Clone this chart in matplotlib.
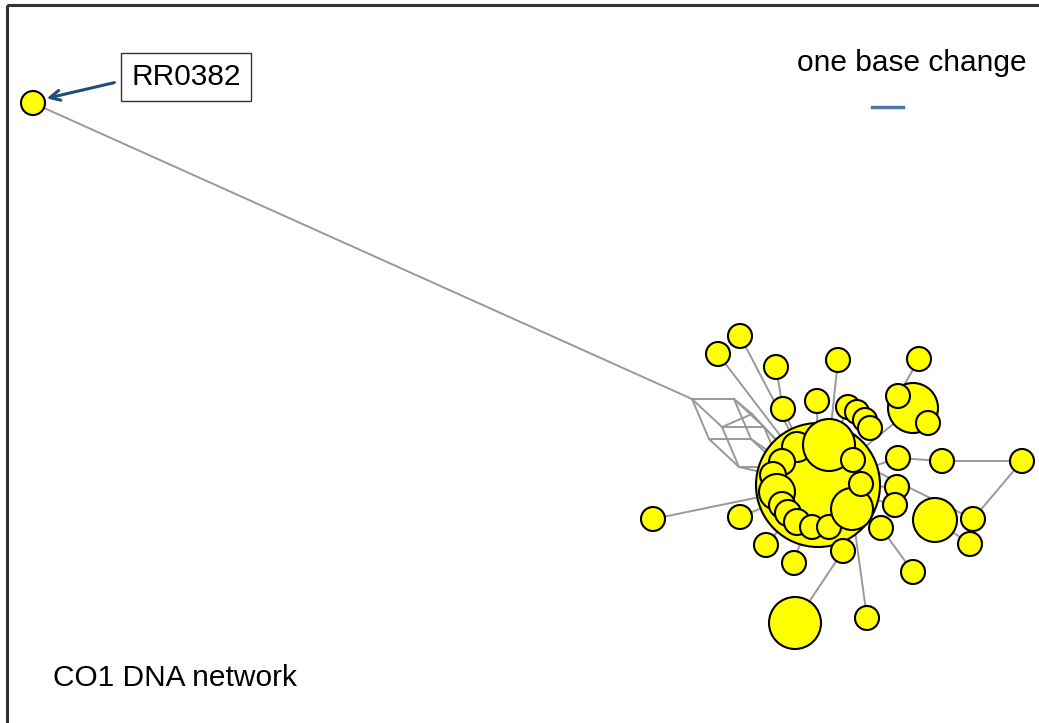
import matplotlib.pyplot as plt
from matplotlib.patches import Circle, Rectangle

# haplotype nodes: x, y (pixel-like layout coords), radius ~ frequency
hap_x = [33, 818,
         797, 782, 773, 777, 782, 788, 797, 812, 829, 829, 853, 852, 861,
         740, 718, 776, 838, 919, 783, 817, 898, 942, 1022, 897, 895,
         973, 970, 881, 913, 867, 843, 794, 766, 740, 653, 935, 795,
         848, 857, 865, 870, 913, 898, 928]
hap_y = [103, 485,
         447, 462, 475, 492, 505, 513, 522, 527, 527, 445, 460, 509, 484,
         336, 354, 367, 360, 359, 409, 401, 458, 461, 461, 487, 505,
         519, 544, 528, 572, 618, 551, 563, 545, 517, 519, 520, 623,
         407, 412, 420, 428, 408, 396, 423]
hap_r = [12, 62,
         15, 13, 13, 18, 13, 13, 13, 12, 12, 26, 12, 21, 12,
         12, 12, 12, 12, 12, 12, 12, 12, 12, 12, 12, 12,
         12, 12, 12, 12, 12, 12, 12, 12, 12, 12, 22, 26,
         12, 12, 12, 12, 25, 12, 12]

# median vectors (unsampled, drawn as line junctions only)
med_x = [692, 734, 709, 722, 751, 764, 739, 781, 752]
med_y = [399, 399, 439, 427, 439, 427, 467, 467, 414]

# links between haplotypes (index into hap lists)
links = [(15, 1), (16, 1), (17, 20), (20, 1), (18, 11), (19, 44), (43, 1),
         (22, 1), (22, 23), (23, 24), (24, 27), (12, 27), (37, 28),
         (29, 30), (31, 13), (38, 32), (32, 1), (36, 1), (35, 1), (34, 1),
         (33, 1), (25, 1), (26, 1), (21, 1), (39, 1)]
# links through the median network: ('h', i) haplotype, ('m', i) median
med_links = [(('h', 0), ('m', 0)),
             (('m', 0), ('m', 1)), (('m', 0), ('m', 2)), (('m', 0), ('m', 3)),
             (('m', 1), ('m', 4)), (('m', 1), ('m', 5)), (('m', 2), ('m', 4)),
             (('m', 2), ('m', 6)), (('m', 4), ('m', 7)), (('m', 3), ('m', 5)),
             (('m', 3), ('m', 6)), (('m', 5), ('m', 7)), (('m', 6), ('m', 7)),
             (('m', 1), ('m', 8)), (('m', 8), ('h', 1)), (('m', 3), ('m', 8)),
             (('m', 7), ('h', 1)), (('m', 5), ('h', 1)), (('m', 4), ('h', 1)),
             (('m', 6), ('h', 1))]

title_text = "CO1 DNA network"
scale_text = "one base change"
label_text = "RR0382"


def pt(node):
    kind, i = node
    if kind == 'h':
        return hap_x[i], hap_y[i]
    return med_x[i], med_y[i]


fig = plt.figure(figsize=(10.39, 7.23), dpi=100)
ax = fig.add_axes([0, 0, 1, 1])
ax.set_xlim(0, 1039)
ax.set_ylim(723, 0)
ax.axis('off')

edge_col = '#999999'
for a, b in links:
    ax.plot([hap_x[a], hap_x[b]], [hap_y[a], hap_y[b]], color=edge_col, lw=1.4, zorder=1)
for a, b in med_links:
    (x0, y0), (x1, y1) = pt(a), pt(b)
    ax.plot([x0, x1], [y0, y1], color=edge_col, lw=1.4, zorder=1)

for i, (x, y, r) in enumerate(zip(hap_x, hap_y, hap_r)):
    ax.add_patch(Circle((x, y), r, facecolor='#ffff00', edgecolor='black',
                        lw=1.5, zorder=2 + i * 0.01))

# frame (top and left edges visible)
ax.add_patch(Rectangle((7, 5), 1100, 800, fill=False, edgecolor='#333333',
                       lw=2.2, zorder=5))

fnt = 'Liberation Sans'
ax.text(53, 678, title_text, fontsize=21.5, family=fnt, va='center', ha='left')
ax.text(912, 63, scale_text, fontsize=21.5, family=fnt, va='center', ha='center')
ax.plot([872, 903], [107, 107], color='#4a78a8', lw=2.5)

ax.annotate('', xy=(44, 99), xytext=(117, 82),
            arrowprops=dict(arrowstyle='->', color='#1f4e79', lw=2.2,
                            mutation_scale=18))
ax.text(186, 77, label_text, fontsize=21.5, family=fnt, va='center', ha='center',
        bbox=dict(boxstyle='square,pad=0.35', facecolor='white', edgecolor='#333333', lw=1.0))

fig.savefig('out.png', dpi=100)
